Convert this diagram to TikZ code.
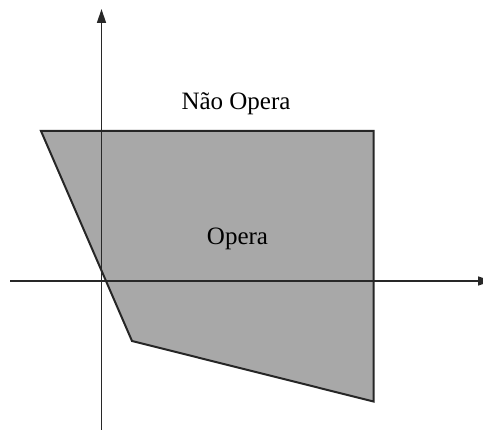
\documentclass[tikz,border=0pt]{standalone}
\usepackage{fontspec}
\setmainfont{Liberation Serif}
\usetikzlibrary{arrows.meta}
\definecolor{regiongray}{RGB}{168,168,168}
\definecolor{axisgray}{RGB}{40,40,40}
\begin{document}
\begin{tikzpicture}[x=1pt,y=-1pt,
  axisline/.style={draw=axisgray, line width=1.4pt, -{Triangle[length=14pt,width=9pt]}},
  regionfill/.style={fill=regiongray},
  regionedge/.style={draw=black!85, line width=2pt, line join=miter},
  lbl/.style={anchor=base, inner sep=0pt, font=\fontsize{25}{30}\selectfont}]
\useasboundingbox (0,0) rectangle (483,430);
\clip (0,0) rectangle (483,430);
% region corners
\coordinate (tl) at (41,131);
\coordinate (tr) at (373.5,131);
\coordinate (br) at (373.5,401.5);
\coordinate (bl) at (132,341);
% axes end points
\coordinate (xstart) at (10,281);
\coordinate (xend) at (492,281);
\coordinate (ystart) at (101.5,430);
\coordinate (yend) at (101.5,9);
\fill[regionfill] (tl) -- (tr) -- (br) -- (bl) -- cycle;
\draw[axisline] (xstart) -- (xend);
\draw[axisline] (ystart) -- (yend);
\draw[regionedge] (tl) -- (tr) -- (br) -- (bl) -- cycle;
\node[lbl] (nao) at (236,110) {Não Opera};
\node[lbl] (op) at (237.5,245) {Opera};
\end{tikzpicture}
\end{document}
